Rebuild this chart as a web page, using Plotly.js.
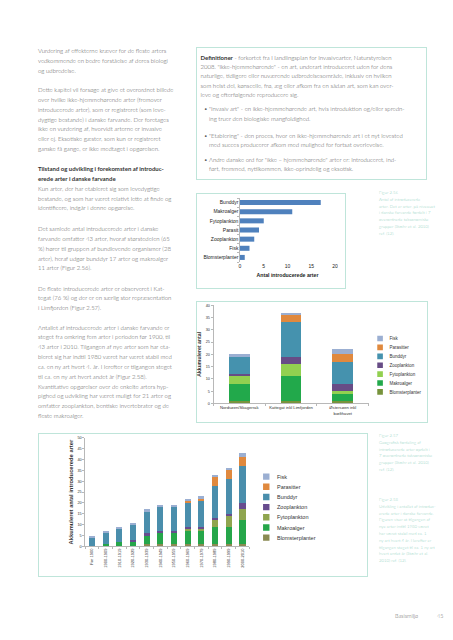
<!DOCTYPE html>
<html><head><meta charset="utf-8">
<script src="https://cdn.plot.ly/plotly-3.0.1.min.js"></script>
<style>
html,body{margin:0;padding:0;background:#fff;}
body{position:relative;width:453px;height:640px;overflow:hidden;font-family:Lato,"Open Sans",sans-serif;font-weight:300;color:#585858;}
.t{position:absolute;white-space:nowrap;font-size:6px;line-height:9.85px;}
.d{position:absolute;white-space:nowrap;font-size:6px;line-height:9.35px;}
.b{font-weight:700;color:#333;}
.box{position:absolute;border:1px solid #bfe5da;box-sizing:border-box;}
.cap{position:absolute;white-space:nowrap;font-size:4.3px;line-height:6.8px;color:#93d3c3;}
.chart{position:absolute;transform-origin:0 0;}
.bul{position:absolute;left:-5px;}
</style></head><body>

<div class="t" style="left:38px;top:46px;">Vurdering af effekterne kræver for de fleste arters<br>vedkommende en bedre forståelse af deres biologi<br>og udbredelse.</div>

<div class="t" style="left:38px;top:85px;">Dette kapitel vil forsøge at give et overordnet billede<br>over hvilke ikke-hjemmehørende arter (fremover<br>introducerede arter), som er registreret (som leve-<br>dygtige bestande) i danske farvande. Der foretages<br>ikke en vurdering af, hvorvidt arterne er invasive<br>eller ej. Eksotiske gæster, som kun er registreret<br>ganske få gange, er ikke medtaget i opgørelsen.</div>

<div class="t" style="left:38px;top:164px;"><span class="b">Tilstand og udvikling i forekomsten af introduc-<br>erede arter i danske farvande</span><br>Kun arter, der har etableret sig som levedygtige<br>bestande, og som har været relativt lette at finde og<br>identificere, indgår i denne opgørelse.</div>

<div class="t" style="left:38px;top:224px;">Det samlede antal introducerede arter i danske<br>farvande omfatter 43 arter, hvoraf størstedelen (65<br>%) hører til gruppen af bundlevende organismer (28<br>arter), heraf udgør bunddyr 17 arter og makroalger<br>11 arter (Figur 2.56).</div>

<div class="t" style="left:38px;top:283.5px;">De fleste introducerede arter er observeret i Kat-<br>tegat (76 %) og der er en særlig stor repræsentation<br>i Limfjorden (Figur 2.57).</div>

<div class="t" style="left:38px;top:322.5px;">Antallet af introducerede arter i danske farvande er<br>steget fra omkring fem arter i perioden før 1900, til<br>43 arter i 2010. Tilgangen af nye arter som har eta-<br>bleret sig har indtil 1980 været har været stabil med<br>ca. en ny art hvert 4. år. Herefter er tilgangen steget<br>til ca. en ny art hvert andet år (Figur 2.58).<br>Kvantitative opgørelser over de enkelte arters hyp-<br>pighed og udvikling har været muligt for 21 arter og<br>omfatter zooplankton, bentiske invertebrater og de<br>fleste makroalger.</div>

<!-- definitions box -->
<div class="box" style="left:196px;top:47px;width:231px;height:133px;"></div>
<div class="d" style="left:200.5px;top:52.6px;"><span class="b">Definitioner</span> - forkortet fra Handlingsplan for Invasivearter, Naturstyrelsen<br>2008. "Ikke-hjemmehørende" - en art, underart introduceret uden for dens<br>naturlige, tidligere eller nuværende udbredelsesområde, inklusiv en hvilken<br>som helst del, kønscelle, frø, æg eller afkom fra en sådan art, som kan over-<br>leve og efterfølgende reproducere sig.</div>
<div class="d" style="left:209px;top:104.3px;"><span class="bul">•</span>"Invasiv art" - en ikke-hjemmehørende art, hvis introduktion og/eller spredn-<br>ing truer den biologiske mangfoldighed.</div>
<div class="d" style="left:209px;top:130.5px;"><span class="bul">•</span>"Etablering" - den proces, hvor en ikke-hjemmehørende art i et nyt levested<br>med succes producerer afkom med mulighed for fortsat overlevelse.</div>
<div class="d" style="left:209px;top:155px;"><span class="bul">•</span>Andre danske ord for "ikke – hjemmehørende" arter er: Introduceret, ind-<br>ført, fremmed, nytilkommen, ikke-oprindelig og eksotisk.</div>

<!-- chart boxes -->
<div class="box" style="left:196px;top:193px;width:150px;height:96px;"></div>
<div class="box" style="left:196px;top:301px;width:232px;height:122px;"></div>
<div class="box" style="left:38px;top:433px;width:330px;height:144px;"></div>

<div id="c1" class="chart" style="left:196px;top:193px;"></div>
<div id="c2" class="chart" style="left:196px;top:301px;"></div>
<div id="c3" class="chart" style="left:38px;top:433px;"></div>

<!-- captions -->
<div class="cap" style="left:379px;top:190px;">Figur 2.56<br>Antal af introducerede<br>arter. Det er arter, på niveauet<br>i danske farvande fordelt i 7<br>overordnede taksonomiske<br>grupper (Stæhr et al. 2010)<br>ref. (12).</div>
<div class="cap" style="left:379px;top:433px;">Figur 2.57<br>Geografisk fordeling af<br>introducerede arter opdelt i<br>7 overordnede taksonomiske<br>grupper (Stæhr et al. 2010)<br>ref. (12).</div>
<div class="cap" style="left:379px;top:497px;">Figur 2.58<br>Udvikling i antallet af introduc-<br>erede arter i danske farvande.<br>Figuren viser at tilgangen af<br>nye arter indtil 1980 været<br>har været stabil med ca. 1<br>ny art hvert 4 år. Herefter er<br>tilgangen steget til ca. 1 ny art<br>hvert andet år (Stæhr et al.<br>2010) ref. (12).</div>

<div style="position:absolute;left:395px;top:613px;font-size:5.5px;color:#666;white-space:nowrap;">Basismiljø</div>
<div style="position:absolute;left:437px;top:613px;font-size:5.5px;color:#666;">45</div>

<script>
// ---------- DATA ----------
// Figur 2.56 (bottom to top)
const groups1 = ["Blomsterplanter","Fisk","Zooplankton","Parasit","Fytoplankton","Makroalger","Bunddyr"];
const counts1 = [1,2,3,4,5,11,17];

// Figur 2.57
const regions = ["Nordsøen/Skagerrak","Kattegat inkl Limfjorden","Østersøen inkl<br>bælthavet"];
const blomster2 = [1,1,1];
const makro2    = [7,10,3];
const fyto2     = [3,5,1];
const zoo2      = [1,3,3];
const bund2     = [7,14,9];
const paras2    = [0,3,3];
const fisk2     = [1,1,2];

// Figur 2.58
const periods = ["Før 1900","1900-1909","1910-1919","1920-1929","1930-1939","1940-1949","1950-1959","1960-1969","1970-1979","1980-1989","1990-1999","2000-2010"];
const blomster3 = [0,0,0,0,1,1,1,1,1,1,1,1];
const makro3    = [0,1,2,2,4,5,5,6,6,8,8,11];
const fyto3     = [0,0,0,0,0,0,0,1,1,3,5,5];
const zoo3      = [0,0,0,1,1,1,1,1,1,1,1,3];
const bund3     = [4,5,6,7,10,11,11,11,12,15,16,17];
const paras3    = [0,0,0,0,0,0,0,1,1,4,4,4];
const fisk3     = [1,1,1,1,1,1,1,1,1,1,1,2];

const seriesNames = ["Blomsterplanter","Makroalger","Fytoplankton","Zooplankton","Bunddyr","Parasitter","Fisk"];
const colors2 = ["#77933C","#22A94B","#92D050","#674C86","#4592AE","#E0893E","#9BAFD2"];
const colors3 = ["#8A8A52","#26A64A","#8FA54F","#674C8E","#4A8EAC","#E0893E","#9BAFD2"];

const FONT = "Liberation Sans, Arial, sans-serif";
const cfg = {staticPlot:true, displayModeBar:false};

function setup(id, s, w, h){
  const el = document.getElementById(id);
  el.style.width = (w/s)+"px"; el.style.height = (h/s)+"px";
  el.style.transform = "scale("+s+")";
  return el;
}

// ---------- Chart 1 ----------
(function(){
  const s = 0.5, W = 150, H = 96, f = v => v/s;
  const el = setup("c1", s, W, H);
  Plotly.newPlot(el, [{
    type:"bar", orientation:"h", y:groups1, x:counts1,
    marker:{color:"#4F81BD"}, width:0.55
  }], {
    width:f(W), height:f(H),
    margin:{l:f(44), r:f(11), t:f(5), b:f(27), pad:0},
    paper_bgcolor:"rgba(0,0,0,0)", plot_bgcolor:"rgba(0,0,0,0)",
    font:{family:FONT, color:"#222", size:f(5)},
    showlegend:false,
    xaxis:{range:[0,20], dtick:5, showgrid:false, zeroline:false, showline:false, ticks:"",
      tickfont:{size:f(5)},
      title:{text:"Antal introducerede arter", font:{size:f(5.2), weight:"bold"}, standoff:f(5)}},
    yaxis:{type:"category", showline:true, linecolor:"#888", linewidth:f(0.6), ticks:"outside", ticklen:f(2),
      tickcolor:"#888", tickwidth:f(0.6), tickson:"boundaries", showgrid:false, tickfont:{size:f(5)}}
  }, cfg);
})();

// ---------- Chart 2 ----------
(function(){
  const s = 0.468, W = 232, H = 122, f = v => v/s;
  const el = setup("c2", s, W, H);
  const vals = [blomster2, makro2, fyto2, zoo2, bund2, paras2, fisk2];
  const traces = seriesNames.map((n,i)=>({type:"bar", name:n, x:regions, y:vals[i],
    marker:{color:colors2[i]}, width:0.4}));
  Plotly.newPlot(el, traces, {
    width:f(W), height:f(H), barmode:"stack",
    margin:{l:f(17.3), r:f(W-17.3-156.7), t:f(4), b:f(H-4-98.3), pad:0},
    paper_bgcolor:"rgba(0,0,0,0)", plot_bgcolor:"rgba(0,0,0,0)",
    font:{family:FONT, color:"#333", size:f(4.5)},
    legend:{traceorder:"reversed", x:1.013, xanchor:"left", y:0.73, yanchor:"top",
      font:{size:f(4.5)}, bgcolor:"rgba(0,0,0,0)"},
    xaxis:{type:"category", showline:true, linecolor:"#888", linewidth:f(0.6), ticks:"outside", ticklen:f(2),
      tickcolor:"#888", tickwidth:f(0.6), tickson:"boundaries", tickfont:{size:f(4.2)}, tickangle:0},
    yaxis:{range:[0,40], dtick:5, showline:true, linecolor:"#888", linewidth:f(0.6), ticks:"outside", ticklen:f(2),
      tickcolor:"#888", tickwidth:f(0.6), showgrid:false, zeroline:false, tickfont:{size:f(3.8)},
      title:{text:"Akkumuleret antal", font:{size:f(5.2), weight:"bold"}, standoff:f(3)}}
  }, cfg);
})();

// ---------- Chart 3 ----------
(function(){
  const s = 0.535, W = 330, H = 144, f = v => v/s;
  const el = setup("c3", s, W, H);
  const vals = [blomster3, makro3, fyto3, zoo3, bund3, paras3, fisk3];
  const traces = seriesNames.map((n,i)=>({type:"bar", name:n, x:periods, y:vals[i],
    marker:{color:colors3[i]}, width:0.45}));
  Plotly.newPlot(el, traces, {
    width:f(W), height:f(H), barmode:"stack",
    margin:{l:f(47), r:f(W-47-164.3), t:f(5), b:f(H-5-108.7), pad:0},
    paper_bgcolor:"rgba(0,0,0,0)", plot_bgcolor:"rgba(0,0,0,0)",
    font:{family:FONT, color:"#333", size:f(5)},
    legend:{traceorder:"reversed", x:1.038, xanchor:"left", y:0.714, yanchor:"top",
      font:{size:f(5.5)}, bgcolor:"rgba(0,0,0,0)"},
    xaxis:{type:"category", showline:true, linecolor:"#888", linewidth:f(0.6), ticks:"outside", ticklen:f(2),
      tickcolor:"#888", tickwidth:f(0.6), tickson:"boundaries", tickfont:{size:f(4)}, tickangle:-90},
    yaxis:{range:[0,50], dtick:5, showline:true, linecolor:"#888", linewidth:f(0.6), ticks:"outside", ticklen:f(2),
      tickcolor:"#888", tickwidth:f(0.6), showgrid:false, zeroline:false, tickfont:{size:f(3.8)},
      title:{text:"Akkumuleret antal introducerede arter", font:{size:f(5.8), weight:"bold"}, standoff:f(3)}}
  }, cfg);
})();
</script>
</body></html>
